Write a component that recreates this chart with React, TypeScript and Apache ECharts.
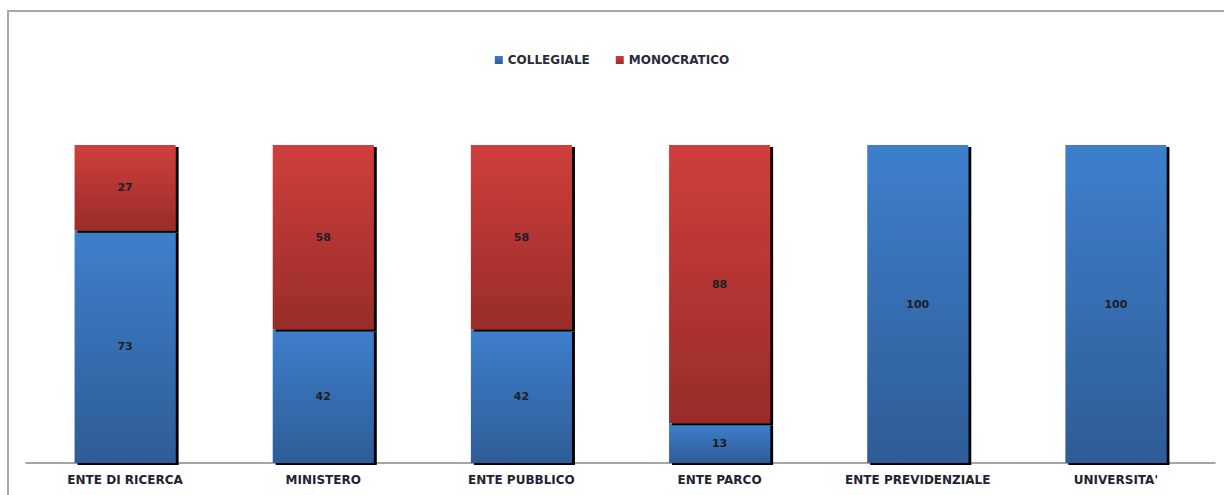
import React, { useEffect, useRef } from "react";
import * as echarts from "echarts";

const categories = ["ENTE DI RICERCA", "MINISTERO", "ENTE PUBBLICO", "ENTE PARCO", "ENTE PREVIDENZIALE", "UNIVERSITA'"];
const collegiale = [73, 42, 42, 12.5, 100, 100];
const monocratico = [27, 58, 58, 87.5, 0, 0];
const seriesNames = ["COLLEGIALE", "MONOCRATICO"];

const FONT = "'DejaVu Sans', Verdana, sans-serif";

function grad(top: string, bottom: string) {
  return new echarts.graphic.LinearGradient(0, 0, 0, 1, [
    { offset: 0, color: top },
    { offset: 1, color: bottom },
  ]);
}

export default function App() {
  const ref = useRef<HTMLDivElement>(null);
  useEffect(() => {
    const chart = echarts.init(ref.current!, null, { renderer: "svg" });
    const label = {
      show: true,
      position: "inside" as const,
      color: "#1e1e28",
      fontFamily: FONT,
      fontWeight: "bold" as const,
      fontSize: 11,
      formatter: (p: any) => (p.value ? String(Math.round(p.value)) : ""),
    };
    const shadow = {
      shadowColor: "#000",
      shadowBlur: 0,
      shadowOffsetX: 3,
      shadowOffsetY: 2,
    };
    chart.setOption({
      animation: false,
      backgroundColor: "#fff",
      graphic: [
        {
          type: "rect",
          shape: { x: 8, y: 11, width: 1240, height: 520 },
          style: { fill: "none", stroke: "#a8a8a8", lineWidth: 2 },
          silent: true,
        },
      ],
      legend: {
        top: 49,
        left: "center",
        itemWidth: 8,
        itemHeight: 8,
        itemGap: 26,
        icon: "rect",
        textStyle: { color: "#2a2a3a", fontFamily: FONT, fontSize: 12, fontWeight: "bold" },
        data: seriesNames,
      },
      grid: { left: 26, right: 9, top: 145, bottom: 32 },
      xAxis: {
        type: "category",
        data: categories,
        axisLine: { lineStyle: { color: "#888", width: 1.5 } },
        axisTick: { show: false },
        axisLabel: {
          color: "#222233",
          fontFamily: FONT,
          fontSize: 12,
          fontWeight: "bold",
          margin: 11,
          interval: 0,
        },
      },
      yAxis: {
        type: "value",
        min: 0,
        max: 100,
        show: false,
        splitLine: { show: false },
      },
      series: [
        {
          name: seriesNames[0],
          type: "bar",
          stack: "total",
          barWidth: "51%",
          data: collegiale,
          label,
          itemStyle: { color: grad("#3e7fcc", "#2e5c96"), ...shadow },
        },
        {
          name: seriesNames[1],
          type: "bar",
          stack: "total",
          barWidth: "51%",
          data: monocratico,
          label,
          itemStyle: { color: grad("#cf3f3b", "#982c29"), ...shadow },
        },
      ],
    });
    return () => chart.dispose();
  }, []);
  return (
    <div
      ref={ref}
      style={{ position: "fixed", left: 0, top: 0, width: 1224, height: 495 }}
    />
  );
}
